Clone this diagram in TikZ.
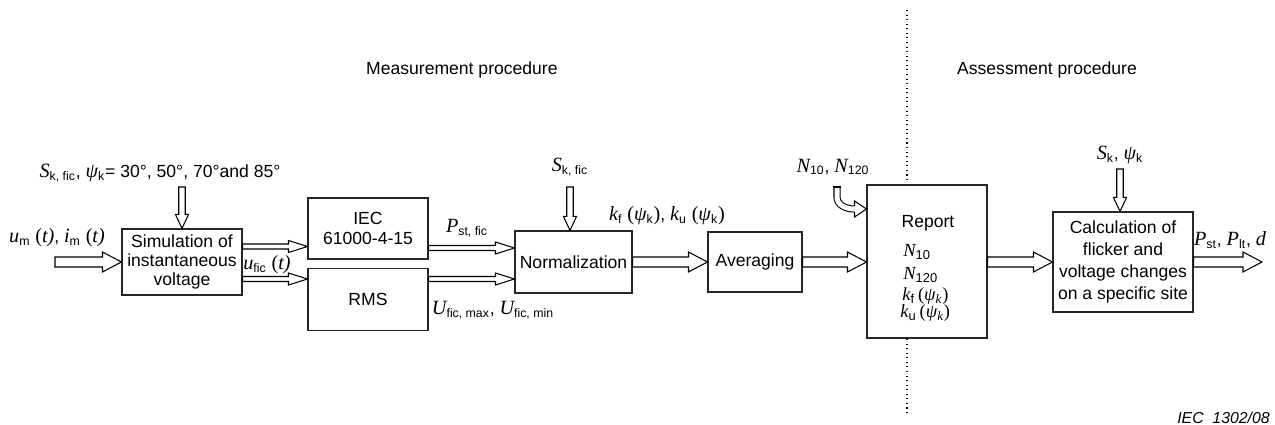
\documentclass[tikz,border=0pt]{standalone}
\usepackage{fontspec}
\setmainfont{Liberation Sans}
\newfontfamily\tms{Liberation Serif}
\usetikzlibrary{positioning,calc}
\newcommand{\vi}[1]{{\tms\itshape\fontsize{11.5}{12}\selectfont #1}}
\newcommand{\pr}[1]{{\tms\fontsize{11.5}{12}\selectfont #1}}
\newcommand{\vs}[1]{{\tms\itshape #1}}
\newcommand{\sbs}[1]{\textsubscript{#1}}
\newcommand{\blockarrow}[5]{%
  \coordinate (ba-h) at ($(#5)!#3!(#4)$);
  \draw[hollow] ($(#4)!#1!90:(#5)$) -- ($(ba-h)!#1!90:(#5)$) -- ($(ba-h)!#2!90:(#5)$) -- (#5)
    -- ($(ba-h)!#2!-90:(#5)$) -- ($(ba-h)!#1!-90:(#5)$) -- ($(#4)!#1!-90:(#5)$) -- cycle;}
\newcommand{\fatarrow}[2]{\blockarrow{0.1cm}{0.2cm}{0.38cm}{#1}{#2}}
\newcommand{\slimarrow}[2]{\blockarrow{0.05cm}{0.12cm}{0.38cm}{#1}{#2}}
\newcommand{\feedarrow}[2]{\blockarrow{0.065cm}{0.13cm}{0.28cm}{#1}{#2}}

\begin{document}
\begin{tikzpicture}[
    box/.style={draw=black!85, fill=white, line width=0.6pt, align=center, inner sep=1pt,
                font=\fontsize{10}{11}\selectfont},
    hollow/.style={draw, fill=white, line width=0.6pt, line join=miter},
    lbl/.style={inner sep=0pt, font=\fontsize{10}{11}\selectfont},
    replbl/.style={inner sep=0pt, anchor=west, font=\fontsize{10.5}{11}\selectfont}
]
    \useasboundingbox (0,0) rectangle (25.5,-8.5);

    \node[lbl, anchor=east] (meas) at (11.16,-1.4) {Measurement procedure};
    \node[lbl] (assess) at (20.94,-1.4) {Assessment procedure};
    \coordinate (sep1) at (18.14,-0.2);
    \coordinate (sep2) at (18.14,-8.3);
    \draw[dotted, line width=0.6pt] (sep1) -- (sep2);
    \node[lbl, anchor=east, font=\fontsize{9}{10}\selectfont\itshape] (fig) at (25.4,-8.36) {IEC\ \ 1302/08};

    \node[box, minimum width=2.4cm, minimum height=1.32cm] (sim) at (3.64,-5.24) {Simulation of\\instantaneous\\voltage};
    \node[box, minimum width=2.4cm, minimum height=1.22cm] (iec) at (7.36,-4.57) {IEC\\61000-4-15};
    \node[box, minimum width=2.4cm, minimum height=1.24cm, below=0.16cm of iec] (rms) {RMS};
    \node[box, minimum width=2.34cm, minimum height=1.24cm] (norm) at (11.47,-5.24) {Normalization};
    \node[box, minimum width=1.88cm, minimum height=1.2cm] (avg) at (15.10,-5.24) {Averaging};
    \node[box, minimum width=2.4cm, minimum height=3.06cm] (report) at (18.54,-5.23) {};
    \node[box, minimum width=2.8cm, minimum height=2cm, font=\fontsize{10}{12.5}\selectfont] (calc) at (22.46,-5.24) {Calculation of\\flicker and\\voltage changes\\on a specific site};

    \node[lbl] (reptitle) at (18.56,-4.46) {Report};
    \node[replbl] (repn1) at (18.06,-5.04) {\vs{N}\sbs{10}};
    \node[replbl] (repn2) at (18.06,-5.5) {\vs{N}\sbs{120}};
    \node[replbl] (repkf) at (18.04,-5.93) {\vs{k}\sbs{f}\,{\tms(}\vs{ψ}\sbs{\vs{k}}{\tms)}};
    \node[replbl] (repku) at (18.0,-6.27) {\vs{k}\sbs{u}\,{\tms(}\vs{ψ}\sbs{\vs{k}}{\tms)}};

    \node[lbl] (simin) at (3.2,-3.46) {\vi{S}\sbs{k, fic}, \vi{ψ}\sbs{k}= 30°, 50°, 70°and 85°};
    \node[lbl] (umim) at (1.14,-4.76) {\vi{u}\sbs{m} \pr{(\itshape t)}, \vi{i}\sbs{m} \pr{(\itshape t)}};
    \node[lbl] (ufic) at (5.34,-5.3) {\vi{u}\sbs{fic} \pr{(\itshape t)}};
    \node[lbl] (pstfic) at (9.34,-4.56) {\vi{P}\sbs{st, fic}};
    \node[lbl] (ufmm) at (9.86,-6.2) {\vi{U}\sbs{fic, max}, \vi{U}\sbs{fic, min}};
    \node[lbl] (skfic) at (11.4,-3.34) {\vi{S}\sbs{k, fic}};
    \node[lbl] (kfku) at (13.34,-4.32) {\vi{k}\sbs{f} \pr{(}\vi{ψ}\sbs{k}\pr{)}, \vi{k}\sbs{u} \pr{(}\vi{ψ}\sbs{k}\pr{)}};
    \node[lbl] (nn) at (16.66,-3.34) {\vi{N}\sbs{10}, \vi{N}\sbs{120}};
    \node[lbl] (skpsi) at (22.4,-3.1) {\vi{S}\sbs{k}, \vi{ψ}\sbs{k}};
    \node[lbl] (pout) at (24.6,-4.8) {\vi{P}\sbs{st}, \vi{P}\sbs{lt}, \vi{d}};

    \coordinate (in) at (1.1,-5.24);
    \fatarrow{in}{sim.west}
    \coordinate (s1) at ($(sim.east)+(0,0.31)$);
    \coordinate (i1) at (iec.west |- s1);
    \slimarrow{s1}{i1}
    \coordinate (s2) at ($(sim.east)+(0,-0.34)$);
    \coordinate (r1) at (rms.west |- s2);
    \slimarrow{s2}{r1}
    \coordinate (i2) at ($(iec.east)+(0,-0.39)$);
    \coordinate (n1) at (norm.west |- i2);
    \slimarrow{i2}{n1}
    \coordinate (r2) at (rms.east |- s2);
    \coordinate (n2) at (norm.west |- s2);
    \slimarrow{r2}{n2}
    \fatarrow{norm.east}{avg.west}
    \coordinate (rp1) at (report.west |- avg.east);
    \fatarrow{avg.east}{rp1}
    \coordinate (rp2) at (report.east |- calc.west);
    \fatarrow{rp2}{calc.west}
    \coordinate (out) at (25.24,-5.24);
    \fatarrow{calc.east}{out}

    \coordinate (c1) at (3.64,-3.74);
    \feedarrow{c1}{sim.north}
    \coordinate (c2) at (11.4,-3.74);
    \coordinate (c2e) at (norm.north -| c2);
    \feedarrow{c2}{c2e}
    \coordinate (c3) at (22.4,-3.38);
    \coordinate (c3e) at (calc.north -| c3);
    \feedarrow{c3}{c3e}

    \coordinate (c4) at (16.74,-3.74);
    \coordinate (r3) at ($(report.west)+(0,1.05)$);
    \coordinate (c4h) at ($(r3)+(-0.24,0)$);
    \draw[line width=0.6pt, double distance=0.1cm] (c4) -- ++(0,-0.2) to[out=-90,in=180] (c4h);
    \draw[line width=0.6pt] ($(c4)+(-0.071,0)$) -- ($(c4)+(0.071,0)$);
    \filldraw[hollow] ($(c4h)+(0,0.061)$) -- ($(c4h)+(0,0.16)$) -- (r3) -- ($(c4h)+(0,-0.16)$) -- ($(c4h)+(0,-0.061)$);
\end{tikzpicture}
\end{document}
